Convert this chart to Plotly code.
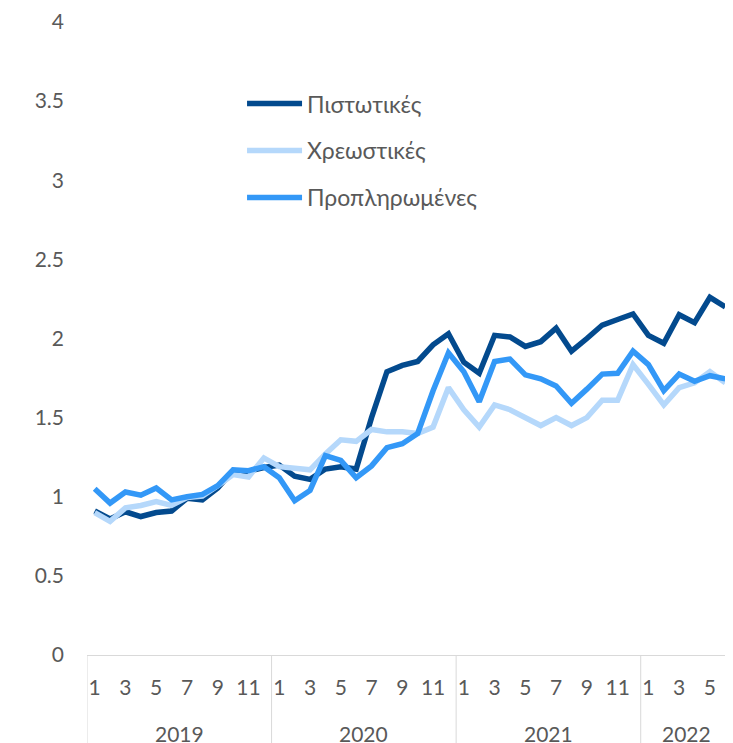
import plotly.graph_objects as go

years = ["2019", "2020", "2021", "2022"]
months_per_year = [12, 12, 12, 6]
month_labels = [str(m) for y, n in zip(years, months_per_year) for m in range(1, n + 1)]

credit = [0.91, 0.86, 0.905, 0.875, 0.90, 0.91, 0.99, 0.98, 1.055, 1.165, 1.16, 1.185,
          1.20, 1.13, 1.11, 1.175, 1.19, 1.175, 1.50, 1.79, 1.83, 1.855, 1.96, 2.03,
          1.85, 1.78, 2.02, 2.01, 1.95, 1.98, 2.065, 1.92, 2.00, 2.085, 2.12, 2.155,
          2.02, 1.97, 2.15, 2.10, 2.26, 2.20]
debit = [0.90, 0.845, 0.93, 0.945, 0.97, 0.945, 0.995, 1.005, 1.07, 1.14, 1.125, 1.245,
         1.19, 1.18, 1.17, 1.27, 1.36, 1.35, 1.425, 1.41, 1.41, 1.40, 1.44, 1.69,
         1.55, 1.44, 1.58, 1.55, 1.50, 1.45, 1.50, 1.45, 1.50, 1.61, 1.61, 1.835,
         1.71, 1.58, 1.69, 1.72, 1.79, 1.72]
prepaid = [1.05, 0.96, 1.03, 1.01, 1.055, 0.98, 1.00, 1.015, 1.07, 1.17, 1.165, 1.19,
           1.12, 0.975, 1.04, 1.26, 1.23, 1.12, 1.195, 1.31, 1.335, 1.40, 1.67, 1.91,
           1.79, 1.60, 1.855, 1.87, 1.77, 1.745, 1.70, 1.59, 1.68, 1.775, 1.78, 1.92,
           1.835, 1.67, 1.775, 1.73, 1.765, 1.745]

series_names = ["Πιστωτικές", "Χρεωστικές", "Προπληρωμένες"]
series_values = [credit, debit, prepaid]
series_colors = ["#034A8E", "#B5D8FB", "#3398F7"]

FONT = "Lato, 'Open Sans', sans-serif"
GREY = "#595959"
AXIS_SIZE = 21
LEGEND_SIZE = 23

x = list(range(len(month_labels)))

fig = go.Figure()
for name, vals, col in zip(series_names, series_values, series_colors):
    fig.add_trace(go.Scatter(x=x, y=vals, mode="lines", name=name, legendgroup=name,
                             line=dict(color=col, width=5.5)))

# odd month ticks
tickvals = [i for i, m in enumerate(month_labels) if int(m) % 2 == 1]
ticktext = [month_labels[i] for i in tickvals]

# year groups: dividers + labels
shapes = []
annotations = []
start = 0
for yr, n in zip(years, months_per_year):
    shapes.append(dict(type="line", xref="x", yref="paper", x0=start - 0.5, x1=start - 0.5,
                       y0=0, y1=-0.2, line=dict(color="#D9D9D9", width=1)))
    annotations.append(dict(text=yr, xref="x", yref="paper", x=start + (n - 1) / 2, y=-0.124,
                            yanchor="middle", showarrow=False,
                            font=dict(family=FONT, size=AXIS_SIZE, color=GREY)))
    start += n

fig.update_layout(
    width=725, height=735,
    margin=dict(l=79, r=0, t=11, b=88),
    paper_bgcolor="white", plot_bgcolor="white",
    font=dict(family=FONT, size=AXIS_SIZE, color=GREY),
    showlegend=True,
    legend=dict(x=0.24, y=0.905, xanchor="left", yanchor="top", itemwidth=55,
                bgcolor="rgba(0,0,0,0)", tracegroupgap=14,
                font=dict(family=FONT, size=LEGEND_SIZE, color=GREY)),
    xaxis=dict(range=[-0.5, len(month_labels) - 0.5], tickmode="array",
               tickvals=tickvals, ticktext=ticktext, showgrid=False, zeroline=False,
               showline=True, linecolor="#D9D9D9", linewidth=1, ticks="",
               ticklabelstandoff=14, ticklabeloverflow="allow",
               tickfont=dict(family=FONT, size=AXIS_SIZE, color=GREY)),
    yaxis=dict(range=[0, 4], dtick=0.5, showgrid=False, zeroline=False, showline=False,
               ticks="", ticklabelstandoff=22, ticklabeloverflow="allow",
               tickfont=dict(family=FONT, size=AXIS_SIZE, color=GREY)),
    shapes=shapes,
    annotations=annotations,
)

fig.write_html("out.html")
